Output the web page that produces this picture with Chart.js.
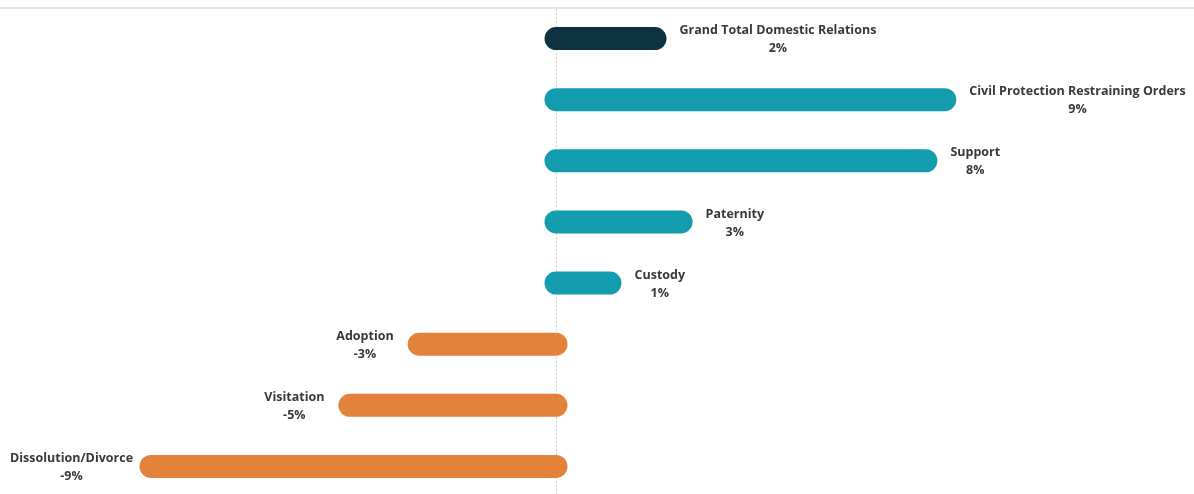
<!DOCTYPE html>
<html>
<head>
<meta charset="utf-8">
<script src="https://cdn.jsdelivr.net/npm/chart.js@4"></script>
<style>
  html, body { margin: 0; padding: 0; background: #fff; overflow: hidden; }
  #wrap { width: 1194px; height: 497px; }
</style>
</head>
<body>
<div id="wrap"><canvas id="chart" width="1194" height="497"></canvas></div>
<script>
// ----------------------
// Data (percent change by case type)
// ----------------------
const categories = [
    'Grand Total Domestic Relations',
    'Civil Protection Restraining Orders',
    'Support',
    'Paternity',
    'Custody',
    'Adoption',
    'Visitation',
    'Dissolution/Divorce'
];
const changes = [2.2, 8.64, 8.22, 2.78, 1.2, -3.04, -4.58, -9.0];

const totalColor = '#0f3243';
const upColor = '#139bae';
const downColor = '#e3823a';
const barColors = changes.map((v, i) => i === 0 ? totalColor : (v >= 0 ? upColor : downColor));

const BAR_H = 23;
const labelFont = 'bold 12.5px "Open Sans"';
const textColor = '#383838';

// ----------------------
// Pill bars + labels drawn from the bar elements
// ----------------------
const pillPlugin = {
    id: 'pills',
    beforeDraw(chart) {
        const c = chart.ctx;
        const x = chart.scales.x;
        const zero = x.getPixelForValue(0);
        c.save();
        // top rule
        c.strokeStyle = '#e4e4e4';
        c.lineWidth = 2;
        c.beginPath();
        c.moveTo(0, 8);
        c.lineTo(chart.width, 8);
        c.stroke();
        // zero line (dotted)
        c.strokeStyle = '#cfcfcf';
        c.lineWidth = 1;
        c.setLineDash([2, 2]);
        c.beginPath();
        c.moveTo(Math.round(zero) + 0.5, 9);
        c.lineTo(Math.round(zero) + 0.5, chart.height);
        c.stroke();
        c.restore();
    },
    beforeDatasetDraw(chart, args) {
        const c = chart.ctx;
        const meta = args.meta;
        c.save();
        c.lineCap = 'round';
        c.lineWidth = BAR_H;
        meta.data.forEach((bar, i) => {
            c.strokeStyle = barColors[i];
            c.beginPath();
            c.moveTo(bar.base, bar.y);
            c.lineTo(bar.x, bar.y);
            c.stroke();
        });
        c.restore();
        return false; // skip default rectangles
    },
    afterDatasetsDraw(chart) {
        const c = chart.ctx;
        const meta = chart.getDatasetMeta(0);
        c.save();
        c.font = labelFont;
        c.fillStyle = textColor;
        c.textAlign = 'center';
        c.textBaseline = 'middle';
        meta.data.forEach((bar, i) => {
            const name = categories[i];
            const pct = Math.round(changes[i]) + '%';
            const w = Math.max(c.measureText(name).width, c.measureText(pct).width);
            let cx;
            if (changes[i] >= 0) {
                cx = bar.x + BAR_H / 2 + 13 + w / 2;
            } else {
                cx = bar.x - BAR_H / 2 - 14 - w / 2;
                cx = Math.max(cx, 10 + w / 2); // keep label inside the view
            }
            c.fillText(name, cx, bar.y - 8);
            c.fillText(pct, cx, bar.y + 10);
        });
        c.restore();
    }
};

// ----------------------
// Chart
// ----------------------
const ZERO_PX = 556;
const PX_PER_UNIT = 45;
const W = 1194;

new Chart(document.getElementById('chart').getContext('2d'), {
    type: 'bar',
    data: {
        labels: categories,
        datasets: [{
            data: changes,
            backgroundColor: barColors,
            borderWidth: 0
        }]
    },
    options: {
        indexAxis: 'y',
        responsive: false,
        animation: false,
        layout: { padding: { top: 8, bottom: 0, left: 0, right: 0 } },
        plugins: {
            legend: { display: false },
            tooltip: { enabled: false }
        },
        scales: {
            x: {
                display: false,
                min: -ZERO_PX / PX_PER_UNIT,
                max: (W - ZERO_PX) / PX_PER_UNIT
            },
            y: { display: false }
        }
    },
    plugins: [pillPlugin]
});
</script>
</body>
</html>
